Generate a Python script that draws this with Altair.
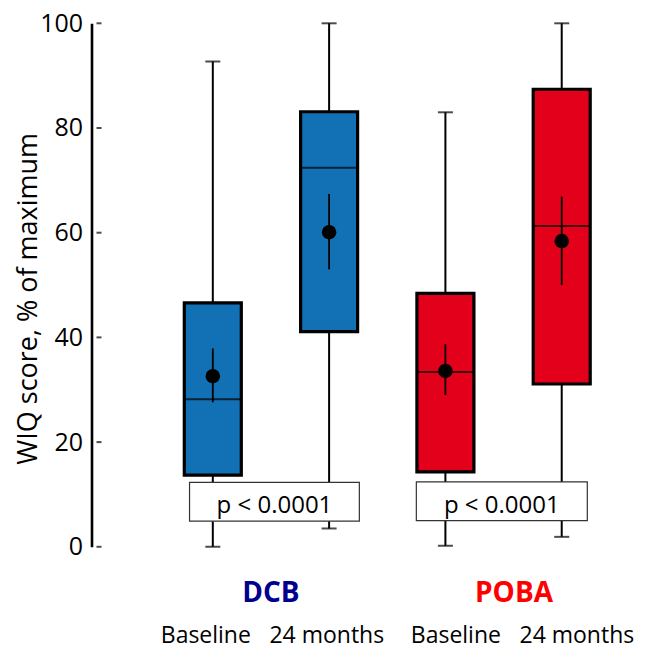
import altair as alt
import pandas as pd

# ---- data ----
groups = ["DCB", "DCB", "POBA", "POBA"]
times = ["Baseline", "24 months", "Baseline", "24 months"]
pos = [1, 2, 3, 4]
wmin = [0.0, 3.5, 0.2, 1.9]
q1 = [13.7, 41.1, 14.3, 31.1]
med = [28.2, 72.4, 33.4, 61.3]
q3 = [46.6, 83.1, 48.4, 87.4]
wmax = [92.7, 100.0, 83.0, 100.0]
mean = [32.6, 60.1, 33.6, 58.4]
ci_lo = [27.6, 53.0, 29.0, 50.0]
ci_hi = [37.9, 67.4, 38.7, 66.9]

# y tick values
y_ticks = [0, 20, 40, 60, 80, 100]

# p-value annotation
p_groups = ["DCB", "POBA"]
p_text = ["p < 0.0001", "p < 0.0001"]
p_x0 = [0.80, 2.75]
p_x1 = [2.26, 4.22]
p_y0 = [4.9, 5.0]
p_y1 = [12.3, 12.4]

# labels below the plot
grp_label = ["DCB", "POBA"]
grp_label_x = [1.50, 3.59]
time_label = ["Baseline", "24 months", "Baseline", "24 months"]
time_label_x = [0.94, 1.98, 3.09, 4.13]

FONT = "Open Sans"
BLUE = "#1271B5"
RED = "#E2001A"

df = pd.DataFrame(dict(group=groups, time=times, pos=pos, wmin=wmin, q1=q1,
                       med=med, q3=q3, wmax=wmax, mean=mean, ci_lo=ci_lo, ci_hi=ci_hi))
pdf = pd.DataFrame(dict(group=p_groups, text=p_text, x0=p_x0, x1=p_x1, y0=p_y0, y1=p_y1))
pdf["xc"] = (pdf["x0"] + pdf["x1"]) / 2
gdf = pd.DataFrame(dict(label=grp_label, x=grp_label_x, group=grp_label))
tdf = pd.DataFrame(dict(label=time_label, x=time_label_x))
tickdf = pd.DataFrame(dict(v=y_ticks, x=[0] * len(y_ticks)))

xs = alt.Scale(domain=[0, 4.6], nice=False, zero=False)
ys = alt.Scale(domain=[0, 100], nice=False, zero=False)
xenc = alt.X("pos:Q", scale=xs, axis=None)
yaxis = alt.Axis(values=y_ticks, domain=True, domainColor="black", domainWidth=2.6,
                 grid=False, ticks=False, labelPadding=9,
                 labelFontSize=25, labelFont=FONT, labelColor="black",
                 title="WIQ score, % of maximum", titleFont=FONT, titleFontSize=27,
                 titleFontWeight="normal", titleColor="black", titlePadding=-3,
                 titleY=275)

base = alt.Chart(df)

# inward-pointing y ticks
yticks = alt.Chart(tickdf).mark_tick(orient="horizontal", color="black", size=5,
                                     thickness=2, xOffset=2.5).encode(
    x=alt.X("x:Q", scale=xs, axis=None),
    y=alt.Y("v:Q", scale=ys, axis=yaxis))

whisk = base.mark_rule(color="black", strokeWidth=2).encode(
    x=xenc, y=alt.Y("wmin:Q", scale=ys), y2="wmax:Q")

cap_lo = base.mark_tick(orient="horizontal", color="black", size=15, thickness=2).encode(
    x=xenc, y=alt.Y("wmin:Q", scale=ys))
cap_hi = base.mark_tick(orient="horizontal", color="black", size=15, thickness=2).encode(
    x=xenc, y=alt.Y("wmax:Q", scale=ys))

box = base.mark_bar(size=57, stroke="black", strokeWidth=3.2).encode(
    x=xenc, y=alt.Y("q1:Q", scale=ys), y2="q3:Q",
    color=alt.Color("group:N", scale=alt.Scale(domain=["DCB", "POBA"], range=[BLUE, RED]),
                    legend=None))

median = base.mark_tick(orient="horizontal", color="black", size=57, thickness=2).encode(
    x=xenc, y=alt.Y("med:Q", scale=ys))

pbox = alt.Chart(pdf).mark_rect(fill="white", stroke="#333333", strokeWidth=1.2).encode(
    x=alt.X("x0:Q", scale=xs, axis=None), x2="x1:Q",
    y=alt.Y("y0:Q", scale=ys), y2="y1:Q")

ptext = alt.Chart(pdf).mark_text(font=FONT, fontSize=24, color="black",
                                 baseline="alphabetic", align="center").encode(
    x=alt.X("xc:Q", scale=xs, axis=None), y=alt.datum(6.4), text="text:N")

ci = base.mark_rule(color="black", strokeWidth=1.8).encode(
    x=xenc, y=alt.Y("ci_lo:Q", scale=ys), y2="ci_hi:Q")

dot = base.mark_circle(color="black", opacity=1, size=210).encode(
    x=xenc, y=alt.Y("mean:Q", scale=ys))

glab = alt.Chart(gdf).mark_text(font=FONT, fontSize=28, fontWeight="bold",
                                baseline="alphabetic", align="center").encode(
    x=alt.X("x:Q", scale=xs, axis=None), y=alt.datum(-10.5), text="label:N",
    color=alt.Color("group:N", scale=alt.Scale(domain=["DCB", "POBA"],
                                               range=["#00008F", "#FF0000"]), legend=None))

tlab = alt.Chart(tdf).mark_text(font=FONT, fontSize=23, color="black",
                                baseline="alphabetic", align="center").encode(
    x=alt.X("x:Q", scale=xs, axis=None), y=alt.datum(-18.4), text="label:N")

chart = alt.layer(yticks, whisk, cap_lo, cap_hi, box, median, pbox, ptext, ci, dot,
                  glab, tlab).resolve_scale(color="independent").properties(
    width=545, height=523.5,
    autosize=alt.AutoSizeParams(type="none"),
    padding={"left": 83.5, "top": 15.3, "right": 1.5, "bottom": 101},
).configure_view(stroke=None)

chart.save("out.html", embed_options={"renderer": "svg", "actions": False})
